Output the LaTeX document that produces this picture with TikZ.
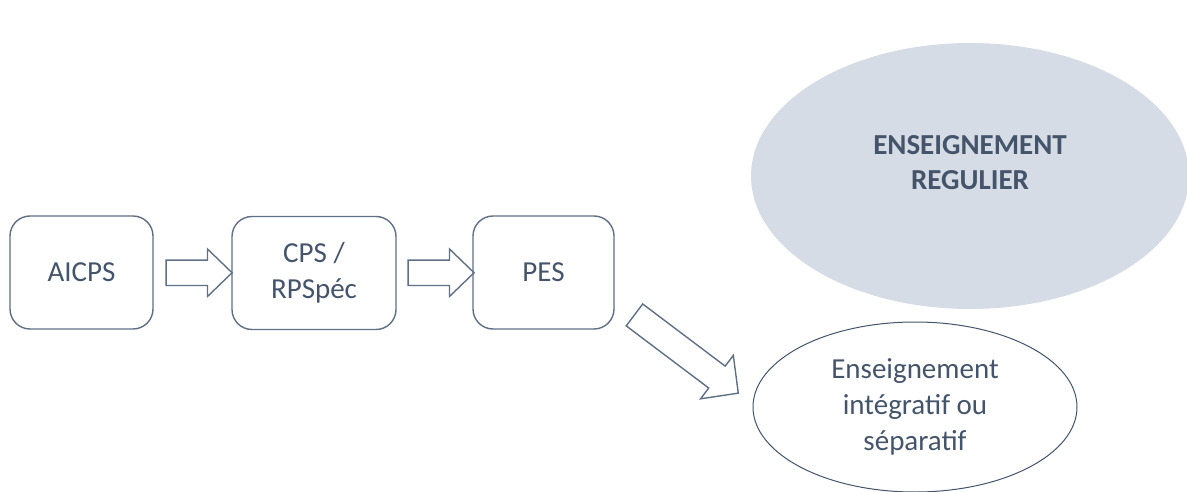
\documentclass[tikz,border=0pt]{standalone}
\usepackage{fontspec}
\setmainfont{Carlito}
\usetikzlibrary{shapes.geometric,shapes.arrows,calc}
\definecolor{slate}{HTML}{44546A}
\definecolor{boxline}{HTML}{5F6F84}
\definecolor{paleblue}{HTML}{D6DCE5}
\tikzset{
  txt/.style={text=slate, align=center, font=\fontsize{29}{36}\selectfont},
  stagebox/.style={txt, draw=boxline, line width=1.4pt, rounded corners=20pt,
    minimum height=113pt, inner sep=0pt},
  blockarrow/.style={single arrow, draw=boxline, line width=1.4pt, inner xsep=0pt,
    inner ysep=12pt, single arrow head extend=11pt, single arrow tip angle=88,
    minimum height=66pt},
  bigoval/.style={ellipse, fill=paleblue, minimum width=438pt, minimum height=266pt},
  smalloval/.style={txt, ellipse, draw=slate, line width=1pt, inner sep=0pt,
    minimum width=324pt, minimum height=170pt}
}
\begin{document}
\begin{tikzpicture}[x=1pt,y=-1pt]
        \useasboundingbox (0,0) rectangle (1187,492);
        % Stages
        \node[stagebox, minimum width=143pt] (aicps) at (81.5,272.5) {AICPS};
        \node[stagebox, minimum width=164pt] (cps) at (314,273) {CPS /\\RPSpéc};
        \node[stagebox, minimum width=141pt] (pes) at (543.5,272.5) {PES};
        % Block arrows
        \node[blockarrow] (a1) at ($(aicps.east)!0.5!(cps.west)$) {};
        \node[blockarrow] (a2) at ($(cps.east)!0.5!(pes.west)$) {};
        \node[blockarrow, inner ysep=13pt, single arrow head extend=13.5pt,
          single arrow tip angle=91, minimum height=130pt,
          rotate=-37] (a3) at (681,350) {};
        % Outcomes
        \node[bigoval] (regular) at (970,176) {};
        \node[txt, font=\fontsize{29}{35}\selectfont\bfseries] (regulartxt)
          at ($(regular.center)+(0,-13)$) {ENSEIGNEMENT\\REGULIER};
        \node[smalloval] (integ) at (915,407) {Enseignement\\intégratif ou\\séparatif};
\end{tikzpicture}
\end{document}
